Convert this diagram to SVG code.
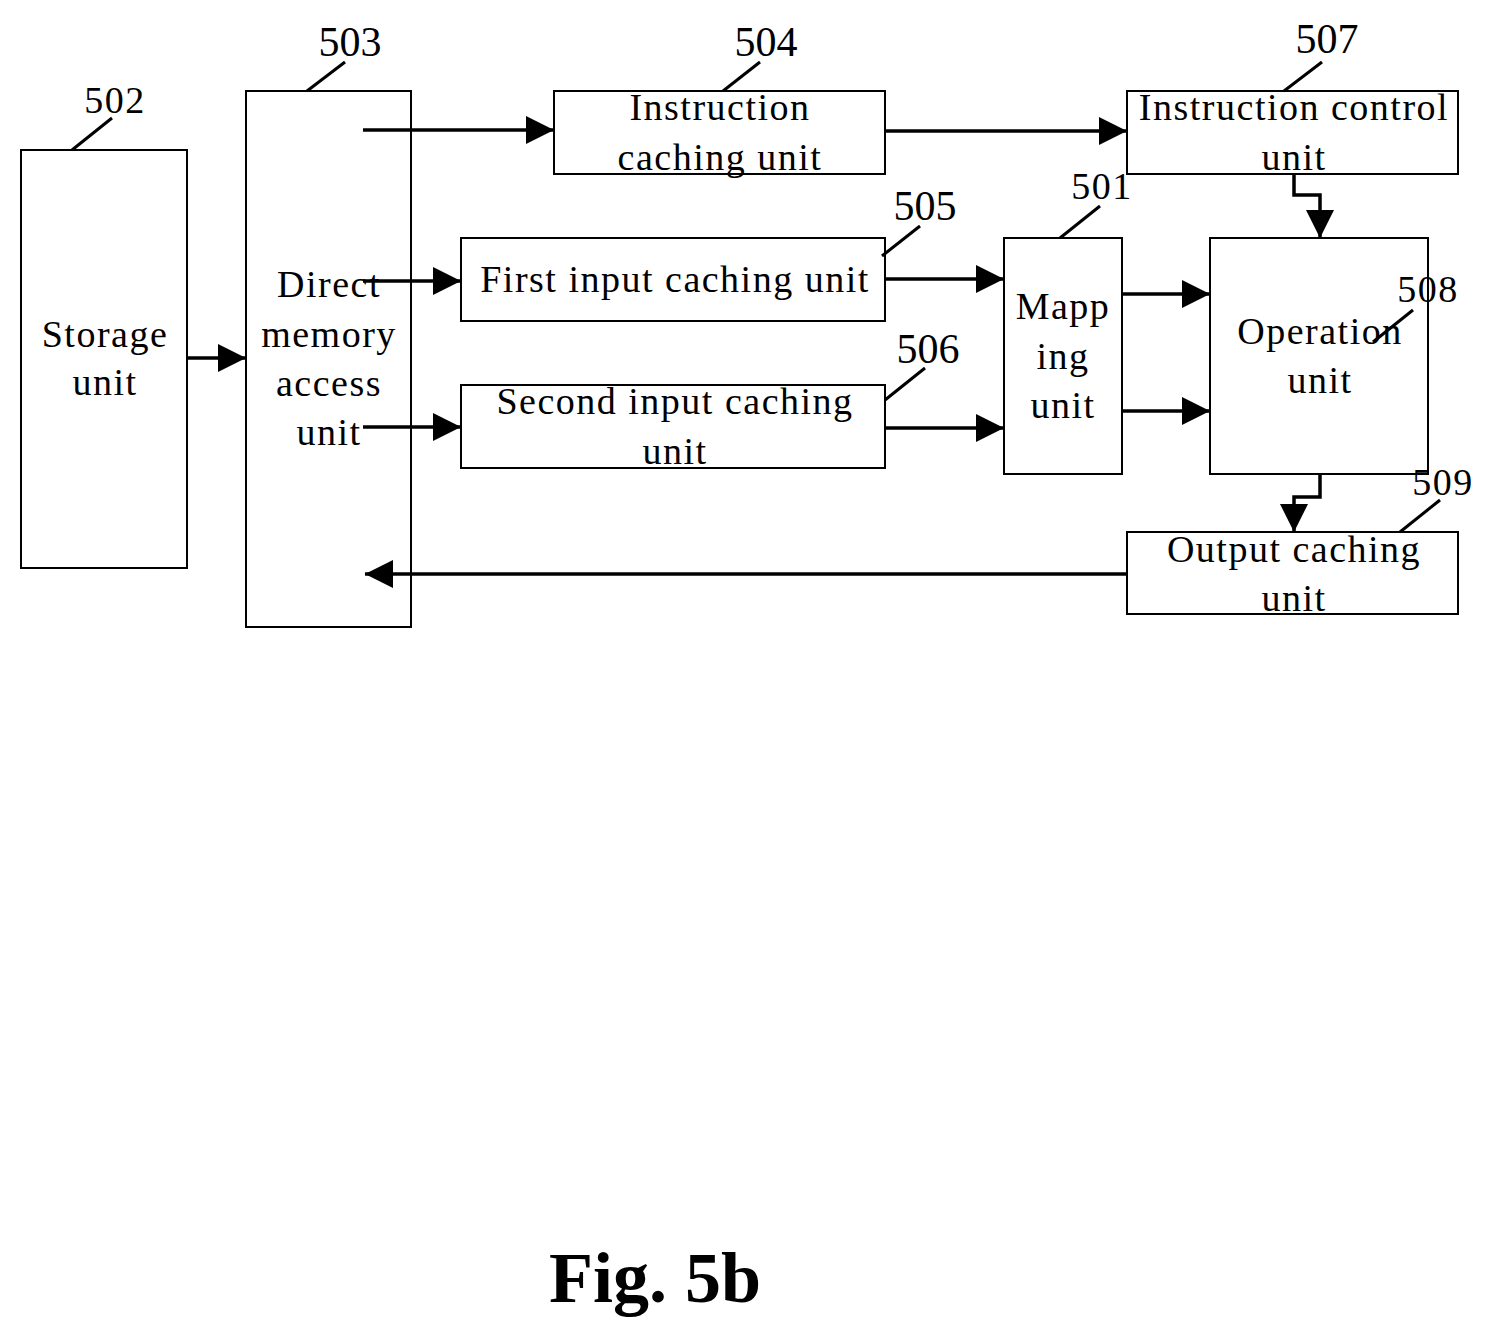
<svg xmlns="http://www.w3.org/2000/svg" width="1493" height="1340" viewBox="0 0 1493 1340">
<style>
.b{fill:#fff;stroke:#000;stroke-width:2}
.t{font-family:"Liberation Serif",serif;font-size:38px;letter-spacing:1.5px;text-anchor:middle;fill:#000}
.n{font-family:"Liberation Serif",serif;font-size:42px;text-anchor:middle;fill:#000}
.l{stroke:#000;stroke-width:3;fill:none}
.c{stroke:#000;stroke-width:3.5;fill:none;marker-end:url(#a)}
</style>
<defs><marker id="a" viewBox="0 0 10 10" refX="10" refY="5" markerWidth="8" markerHeight="8" markerUnits="strokeWidth" orient="auto"><path d="M0,0L10,5L0,10z" fill="#000"/></marker></defs>
<rect width="1493" height="1340" fill="#fff"/>
<g id="storage"><rect class="b" x="21" y="150" width="166" height="418"/><text class="t" x="105" y="347">Storage</text><text class="t" x="105" y="395">unit</text><text class="t" x="115" y="113">502</text><line class="l" x1="72" y1="150" x2="112" y2="118"/></g>
<g id="dma"><rect class="b" x="246" y="91" width="165" height="536"/><text class="t" x="329" y="297">Direct</text><text class="t" x="329" y="347">memory</text><text class="t" x="329" y="396">access</text><text class="t" x="329" y="445">unit</text><text class="n" x="350" y="56">503</text><line class="l" x1="307" y1="91" x2="345" y2="62"/></g>
<g id="icache"><rect class="b" x="554" y="91" width="331" height="83"/><text class="t" x="720" y="120">Instruction</text><text class="t" x="720" y="170">caching unit</text><text class="n" x="766" y="56">504</text><line class="l" x1="723" y1="91" x2="760" y2="62"/></g>
<g id="icu"><rect class="b" x="1127" y="91" width="331" height="83"/><text class="t" x="1294" y="120">Instruction control</text><text class="t" x="1294" y="170">unit</text><text class="n" x="1327" y="53">507</text><line class="l" x1="1284" y1="91" x2="1322" y2="62"/></g>
<g id="first"><rect class="b" x="461" y="238" width="424" height="83"/><text class="t" x="675" y="292">First input caching unit</text><text class="n" x="925" y="220">505</text><line class="l" x1="882" y1="256" x2="920" y2="226"/></g>
<g id="second"><rect class="b" x="461" y="385" width="424" height="83"/><text class="t" x="675" y="414">Second input caching</text><text class="t" x="675" y="464">unit</text><text class="n" x="928" y="363">506</text><line class="l" x1="885" y1="400" x2="925" y2="368"/></g>
<g id="mapping"><rect class="b" x="1004" y="238" width="118" height="236"/><text class="t" x="1063" y="319">Mapp</text><text class="t" x="1063" y="369">ing</text><text class="t" x="1063" y="418">unit</text><text class="t" x="1102" y="199">501</text><line class="l" x1="1060" y1="238" x2="1100" y2="206"/></g>
<g id="operation"><rect class="b" x="1210" y="238" width="218" height="236"/><text class="t" x="1320" y="344">Operation</text><text class="t" x="1320" y="393">unit</text><text class="t" x="1428" y="302">508</text><line class="l" x1="1373" y1="342" x2="1413" y2="310"/></g>
<g id="output"><rect class="b" x="1127" y="532" width="331" height="82"/><text class="t" x="1294" y="562">Output caching</text><text class="t" x="1294" y="611">unit</text><text class="t" x="1443" y="495">509</text><line class="l" x1="1400" y1="532" x2="1440" y2="500"/></g>
<g id="connectors">
<line class="c" x1="187" y1="358" x2="246" y2="358"/>
<line class="c" x1="363" y1="130" x2="554" y2="130"/>
<line class="c" x1="885" y1="131" x2="1127" y2="131"/>
<line class="c" x1="363" y1="281" x2="461" y2="281"/>
<line class="c" x1="363" y1="427" x2="461" y2="427"/>
<line class="c" x1="885" y1="279" x2="1004" y2="279"/>
<line class="c" x1="885" y1="428" x2="1004" y2="428"/>
<line class="c" x1="1122" y1="294" x2="1210" y2="294"/>
<line class="c" x1="1122" y1="411" x2="1210" y2="411"/>
<polyline class="c" points="1294,174 1294,195 1320,195 1320,238"/>
<polyline class="c" points="1320,474 1320,497 1294,497 1294,532"/>
<line class="c" x1="1127" y1="574" x2="365" y2="574"/>
</g>
<text x="655" y="1302" font-family="Liberation Serif,serif" font-size="72" font-weight="bold" text-anchor="middle">Fig. 5b</text>
</svg>
